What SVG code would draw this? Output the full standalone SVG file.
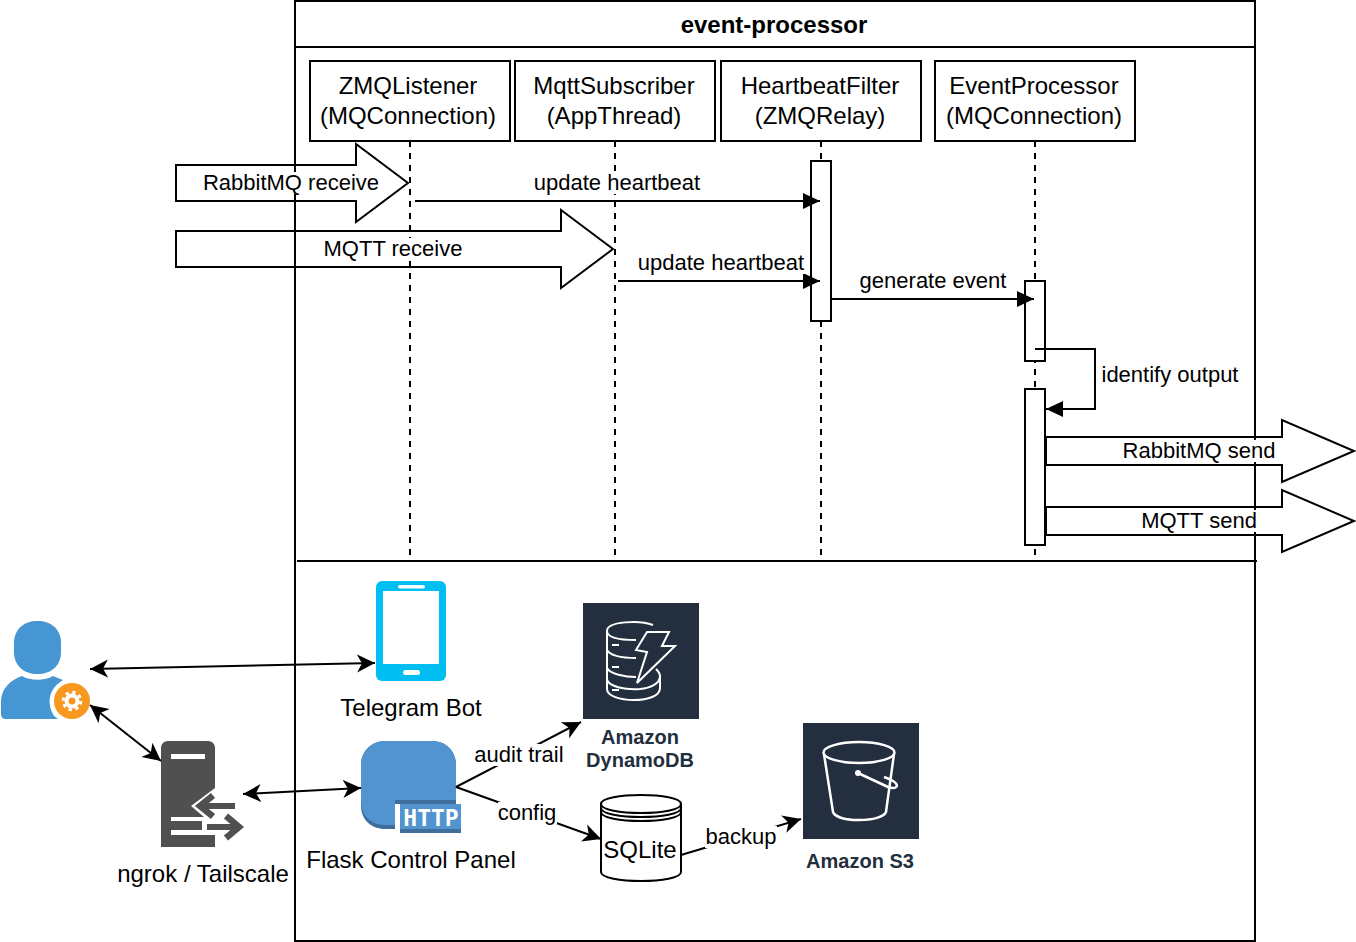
<svg xmlns="http://www.w3.org/2000/svg" width="1356" height="942" viewBox="0 0 1356 942">
<style>
text{font-family:"Liberation Sans",Arial,sans-serif;font-size:22px;fill:#000;text-anchor:middle}
.h{font-size:24px}
.t{font-size:24px;font-weight:bold}
.aws{font-size:20px;font-weight:bold;fill:#232F3E}
.box{fill:#fff;stroke:#000;stroke-width:2}
.open{fill:none;stroke:#000;stroke-width:2}
.life{fill:none;stroke:#000;stroke-width:2;stroke-dasharray:6 6}
.bg{fill:#fff;stroke:none}
.seq{fill:none;stroke:#000;stroke-width:2;marker-end:url(#tri)}
.con{fill:none;stroke:#000;stroke-width:2;marker-end:url(#cls)}
.both{marker-start:url(#cls)}
.ic{fill:none;stroke:#fff;stroke-width:2}
.ic3{fill:none;stroke:#fff;stroke-width:2.500}
</style>
<defs>
<marker id="tri" markerUnits="userSpaceOnUse" markerWidth="18" markerHeight="18" refX="17" refY="9" orient="auto"><path d="M0 1L17 9L0 17Z" fill="#000"/></marker>
<marker id="cls" markerUnits="userSpaceOnUse" markerWidth="20" markerHeight="20" refX="18" refY="10" orient="auto-start-reverse"><path d="M0 1L18 10L0 19L5 10Z" fill="#000"/></marker>
</defs>
<rect width="1356" height="942" fill="#fff"/>
<g id="frame">
<rect class="open" x="295" y="1" width="960" height="940"/>
<path class="open" d="M295 47H1255"/>
<text class="t" x="774" y="33">event-processor</text>
<path class="open" d="M297 561H1257"/>
</g>
<g id="zmq-listener">
<path class="life" d="M410 141V556"/>
<rect class="box" x="310" y="61" width="200" height="80"/>
<text class="h" x="408" y="94">ZMQListener</text><text class="h" x="408" y="124">(MQConnection)</text>
</g>
<g id="mqtt-subscriber">
<path class="life" d="M615 141V556"/>
<rect class="box" x="515" y="61" width="200" height="80"/>
<text class="h" x="614" y="94">MqttSubscriber</text><text class="h" x="614" y="124">(AppThread)</text>
</g>
<g id="heartbeat-filter">
<path class="life" d="M821 141V556"/>
<rect class="box" x="721" y="61" width="200" height="80"/>
<text class="h" x="820" y="94">HeartbeatFilter</text><text class="h" x="820" y="124">(ZMQRelay)</text>
<rect class="box" x="811" y="161" width="20" height="160"/>
</g>
<g id="event-processor">
<path class="life" d="M1035 141V556"/>
<rect class="box" x="935" y="61" width="200" height="80"/>
<text class="h" x="1034" y="94">EventProcessor</text><text class="h" x="1034" y="124">(MQConnection)</text>
<rect class="box" x="1025" y="281" width="20" height="80"/>
<rect class="box" x="1025" y="389" width="20" height="156"/>
</g>
<g id="rabbitmq-receive">
<path class="open" d="M176 165H356V144L408 183L356 222V201H176Z"/>
<rect class="bg" x="203" y="172" width="176" height="22"/>
<text x="291" y="190">RabbitMQ receive</text>
</g>
<g id="mqtt-receive">
<path class="open" d="M176 231H561V210L613 249L561 288V267H176Z"/>
<rect class="bg" x="323" y="238" width="140" height="22"/>
<text x="393" y="256">MQTT receive</text>
</g>
<g id="rabbitmq-send">
<path class="open" d="M1046 437H1282V420L1354 451L1282 482V465H1046Z"/>
<rect class="bg" x="1123" y="440" width="153" height="22"/>
<text x="1199" y="458">RabbitMQ send</text>
</g>
<g id="mqtt-send">
<path class="open" d="M1046 507H1282V490L1354 521L1282 552V535H1046Z"/>
<rect class="bg" x="1141" y="510" width="116" height="22"/>
<text x="1199" y="528">MQTT send</text>
</g>
<g id="user">
<path d="M14 643C14 629 24 621 37.500 621C51 621 61 629 61 643V652C61 666 51 674 37.500 674C24 674 14 666 14 652Z" fill="#4596D2"/>
<path d="M22 676C30 681 45 681 53 676L63 680C53 686 48 695 50 706C51 711 53 716 58 719H6C3 719 1 717 1 714V702C1 689 10 680 22 676Z" fill="#4596D2"/>
<circle cx="72" cy="701" r="18" fill="#F7981F"/>
<circle cx="72" cy="701" r="7.500" fill="#fff"/>
<circle cx="72" cy="701" r="8.800" fill="none" stroke="#fff" stroke-width="3" stroke-dasharray="3.400 3.510"/>
<circle cx="72" cy="701" r="3.500" fill="#F7981F"/>
</g>
<g id="telegram-bot">
<rect x="376" y="581" width="70" height="100" rx="6" fill="#00BEF2"/>
<rect x="383" y="591" width="56" height="73" fill="#fff"/>
<rect x="398" y="585" width="27" height="3.500" rx="1.700" fill="#fff"/>
<rect x="403" y="670" width="17" height="5" rx="2.500" fill="#fff"/>
<text class="h" x="411" y="716">Telegram Bot</text>
</g>
<g id="tunnel">
<path d="M161 847V748C161 744 164 741 168 741H208C212 741 215 744 215 748V847Z" fill="#505050"/>
<rect x="171" y="754" width="34" height="5" fill="#fff"/>
<path d="M215 788L191 806L204 817H171V835H215V847H222V790Z" fill="#fff"/>
<path d="M171 821H202V830H171Z" fill="#505050"/>
<path d="M213 795.500L200 806L213 816.500" fill="none" stroke="#505050" stroke-width="6.500"/>
<rect x="204" y="803" width="31" height="6" fill="#505050"/>
<rect x="207" y="824" width="29" height="6" fill="#505050"/>
<path d="M226 816L239 827L226 838" fill="none" stroke="#505050" stroke-width="6.500"/>
<text class="h" x="203" y="882">ngrok / Tailscale</text>
</g>
<g id="flask-panel">
<path d="M361 765C361 751 372 741 385 741H432C446 741 456 751 456 765V804H395V829H385C372 829 361 820 361 806Z" fill="#3F6E9C"/>
<path d="M361 765C361 751 372 741 385 741H432C446 741 456 751 456 765V800H395V825H385C372 825 361 816 361 802Z" fill="#5294CF"/>
<rect x="400" y="804" width="61" height="29" fill="#5294CF"/>
<rect x="395" y="804" width="5" height="29" fill="#fff"/>
<rect x="400" y="829" width="61" height="4" fill="#3F6E9C"/>
<text x="431" y="826" style="font-family:'DejaVu Sans Mono',monospace;font-size:23px;font-weight:bold;fill:#fff">HTTP</text>
<text class="h" x="411" y="868">Flask Control Panel</text>
</g>
<g id="dynamodb">
<rect x="583" y="603" width="116" height="116" fill="#232F3E"/>
<path class="ic" d="M653 625C640 620 607 621 607 631V689C607 696 620 700 634 700C648 700 660 696 660 688V676C660 673 658 671 656 669"/>
<path class="ic" d="M607 631C607 638 620 640 636 640M607 650C610 655 620 658 636 658M607 668C610 674 625 677 636 677M607 680C610 687 625 690 640 689C650 688 660 684 660 676"/>
<path class="ic" d="M612 645H619M612 667H619M612 690H619"/>
<path class="ic" d="M647 632H669L662 646H675L637 683L647 652L636 650Z"/>
<text class="aws" x="640" y="744">Amazon</text>
<text class="aws" x="640" y="767">DynamoDB</text>
</g>
<g id="sqlite">
<path class="box" d="M601 804C601 792 681 792 681 804V872C681 884 601 884 601 872Z"/>
<path class="open" d="M601 804C601 816 681 816 681 804M601 808C601 820 681 820 681 808M601 812C601 824 681 824 681 812"/>
<text class="h" x="640" y="858">SQLite</text>
</g>
<g id="s3">
<rect x="803" y="723" width="116" height="116" fill="#232F3E"/>
<ellipse class="ic3" cx="859" cy="752.500" rx="35.500" ry="10.500"/>
<path class="ic3" d="M824 754L833 812C835 817 845 820 859 820C873 820 884 817 886 812L894 754"/>
<circle cx="858" cy="773" r="3" fill="#fff"/>
<path class="ic3" d="M858 773L888 787C897 790 900 785 893 781C890 779 887 778 884 777"/>
<text class="aws" x="860" y="868">Amazon S3</text>
</g>
<g id="connectors">
<path class="seq" d="M415 201H820"/>
<path class="seq" d="M618 281H820"/>
<path class="seq" d="M831 299H1034"/>
<path class="seq" d="M1035 349H1095V409H1046"/>
<path class="con both" d="M90 669L375 663"/>
<path class="con both" d="M90 705L161 761"/>
<path class="con both" d="M243 794L361 788"/>
<path class="con" d="M456 787L581 722"/>
<path class="con" d="M456 787L601 839"/>
<path class="con" d="M681 855L801 819"/>
<rect class="bg" x="533" y="172" width="168" height="22"/>
<text x="617" y="190">update heartbeat</text>
<rect class="bg" x="637" y="252" width="168" height="22"/>
<text x="721" y="270">update heartbeat</text>
<text x="933" y="288">generate event</text>
<text x="1170" y="382">identify output</text>
<rect class="bg" x="474" y="744" width="90" height="22"/>
<text x="519" y="762">audit trail</text>
<rect class="bg" x="498" y="802" width="59" height="22"/>
<text x="527" y="820">config</text>
<rect class="bg" x="705" y="826" width="72" height="22"/>
<text x="741" y="844">backup</text>
</g>
</svg>
